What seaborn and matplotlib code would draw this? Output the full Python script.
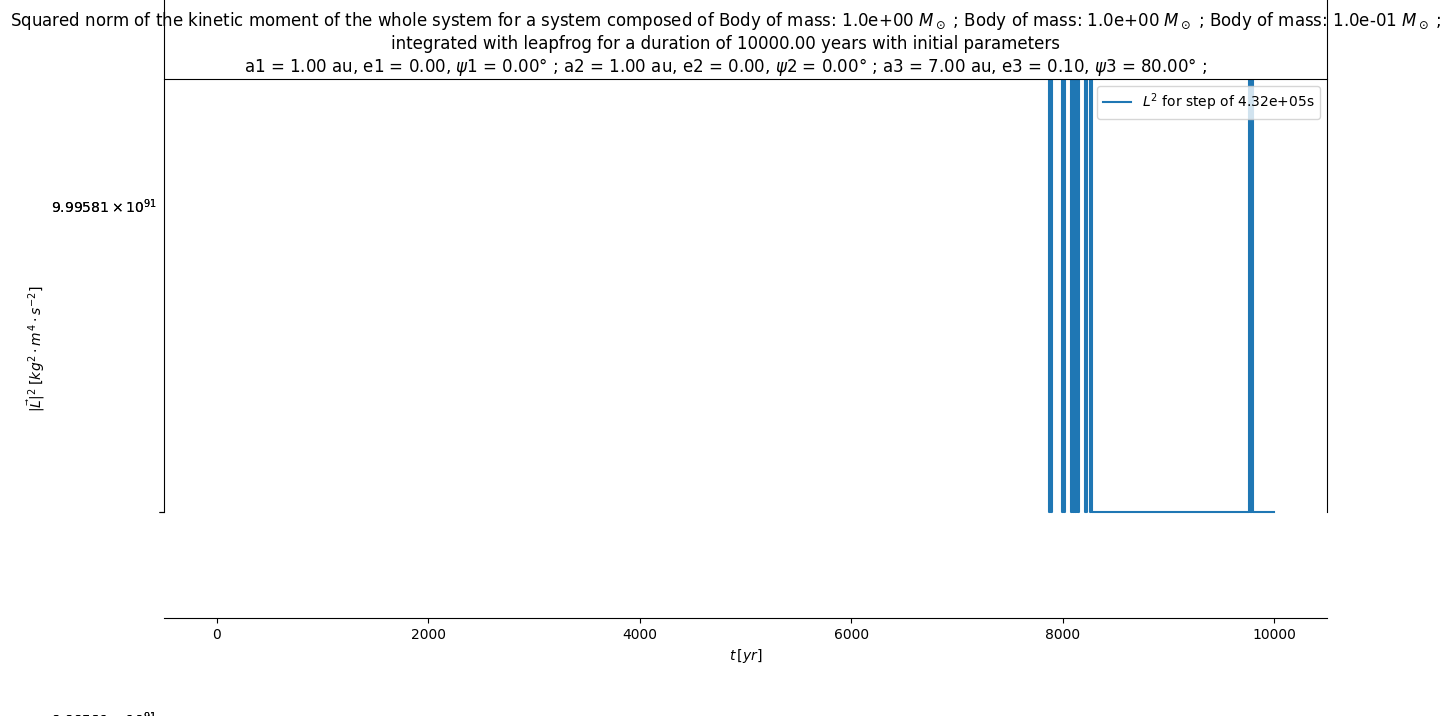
import numpy as np
import pandas as pd
import matplotlib
matplotlib.use("Agg")
import matplotlib.pyplot as plt
import matplotlib.transforms as mtransforms
import seaborn as sns

# ---------------- data ----------------
L2_LOW = 9.995810e91    # lower level of |L|^2
L2_HIGH = 9.995812e91   # upper level of |L|^2 (off the top of the view)

# times [yr] at which |L|^2 changes level (step series, steps-post)
t_yr = [0, 7869, 7879, 7889, 7899, 7996, 8006, 8016, 8026,
        8077, 8086, 8095, 8104, 8113, 8122, 8131, 8140, 8149, 8158,
        8214, 8230, 8262, 8272, 8282, 9758, 9772, 9786, 9800, 10000]
L2 = [L2_HIGH, L2_LOW, L2_HIGH, L2_LOW, L2_HIGH, L2_LOW, L2_HIGH, L2_LOW, L2_HIGH,
      L2_LOW, L2_HIGH, L2_LOW, L2_HIGH, L2_LOW, L2_HIGH, L2_LOW, L2_HIGH, L2_LOW, L2_HIGH,
      L2_LOW, L2_HIGH, L2_LOW, L2_HIGH, L2_LOW, L2_HIGH, L2_LOW, L2_HIGH, L2_LOW, L2_LOW]

x_ticks = [0, 2000, 4000, 6000, 8000, 10000]
y_tick_label = r"$\mathdefault{9.99581\times10^{91}}$"
legend_label = r"$L^2$ for step of 4.32e+05s"
title_text = (
    r"Squared norm of the kinetic moment of the whole system for a system composed of "
    r"Body of mass: 1.0e+00 $M_\odot$ ; Body of mass: 1.0e+00 $M_\odot$ ; "
    r"Body of mass: 1.0e-01 $M_\odot$ ;" "\n"
    r"integrated with leapfrog for a duration of 10000.00 years with initial parameters" "\n"
    r"a1 = 1.00 au, e1 = 0.00, $\psi$1 = 0.00° ; a2 = 1.00 au, e2 = 0.00, $\psi$2 = 0.00° ; "
    r"a3 = 7.00 au, e3 = 0.10, $\psi$3 = 80.00° ;"
)

df = pd.DataFrame({"t": t_yr, "L2": L2})

# ---------------- figure ----------------
W, H = 1453, 716
fig = plt.figure(figsize=(W / 100, H / 100), dpi=100)
ax = fig.add_axes([164 / W, (H - 618) / H, (1327 - 164) / W, (618 - 79) / H])

sns.lineplot(data=df, x="t", y="L2", ax=ax, sort=False, estimator=None,
             drawstyle="steps-post", color="#1f77b4", linewidth=1.5,
             label=legend_label)

# y view: lower level sits ~20% above the bottom of the box
R = 1e85
f_low = 106 / 539
y0 = L2_LOW - f_low * R
ax.set_ylim(y0, y0 + R)
ax.spines["left"].set_bounds(L2_LOW, y0 + 1.3 * R)
ax.spines["right"].set_bounds(L2_LOW, y0 + 1.3 * R)

# labels drawn twice on top of each other (as in the reference)
ax.set_yticks([L2_LOW, L2_LOW], labels=[y_tick_label, y_tick_label])
y_mid = y0 + (413 / 539) * R
ax.set_yticks([y_mid, y_mid], labels=[y_tick_label, y_tick_label], minor=True)
ax.tick_params(axis="y", which="major", pad=2.0)
ax.tick_params(axis="y", which="minor", length=0, pad=5.5)
shift = mtransforms.ScaledTranslation(0, -206 / 100, fig.dpi_scale_trans)
for tk in ax.yaxis.get_major_ticks():
    tk.label1.set_transform(tk.label1.get_transform() + shift)

ax.set_xticks(x_ticks)
ax.set_xlabel(r"$t\,[yr]$")
ax.set_ylabel(r"$|\vec{L}|^2\;[kg^2\cdot m^4\cdot s^{-2}]$", labelpad=2.5)
ax.legend(loc="upper right")

fig.suptitle(title_text, fontsize=12, x=0.4995, y=0.9856)

fig.savefig("out.png", dpi=100)
